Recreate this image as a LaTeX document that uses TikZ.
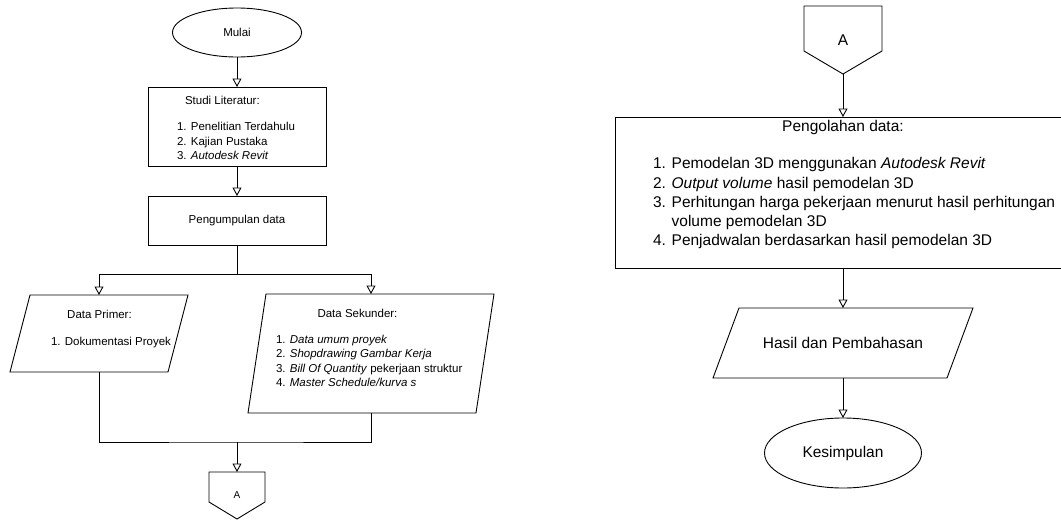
\documentclass[tikz,border=0pt]{standalone}
\usepackage{fontspec}
\setmainfont{Liberation Sans}
\usetikzlibrary{arrows.meta,shapes.geometric}
\begin{document}
\begin{tikzpicture}[x=1pt,y=-1pt,
  line width=0.9pt,
  every node/.style={inner sep=0pt, outer sep=0pt},
  arr/.style={-{Triangle[open,length=8.5pt,width=9pt,line width=0.9pt]}},
  sm/.style={font=\fontsize{11.5}{14}\selectfont},
  bg/.style={font=\fontsize{15.5}{19}\selectfont},
  lt/.style={anchor=base west},
  procbox/.style={draw, rectangle},
  term/.style={draw, ellipse},
  holder/.style={rectangle}
]
\useasboundingbox (0,0) rectangle (1061,520);
\fill[white] (0,0) rectangle (1061,520);
\clip (0,0) rectangle (1061,520);

% ---------- left column ----------
\node[term, sm, minimum width=129pt, minimum height=49pt] (mulai) at (237,32.5) {Mulai};

\node[procbox, minimum width=178pt, minimum height=79pt] (studi) at (237,126.5) {};
\node[sm, lt] (studiT) at (185,104) {Studi Literatur:};
\node[sm, lt] (studi1) at (177,130) {1. Penelitian Terdahulu};
\node[sm, lt] (studi2) at (177,145) {2. Kajian Pustaka};
\node[sm, lt] (studi3) at (177,159) {3. \textit{Autodesk Revit}};

\node[procbox, sm, minimum width=178pt, minimum height=49pt] (peng) at (237,220.5) {Pengumpulan data};

\node[holder, minimum width=158pt, minimum height=77pt] (prim) at (99,333.5) {};
\draw ([xshift=10pt]prim.north west) -- ([xshift=10pt]prim.north east)
  -- ([xshift=-10pt]prim.south east) -- ([xshift=-10pt]prim.south west) -- cycle;
\node[sm, anchor=base] (primT) at (99.5,318) {Data Primer:};
\node[sm, lt] (prim1) at (51,345) {1. Dokumentasi Proyek};

\node[holder, minimum width=228pt, minimum height=119pt] (sek) at (371,353.5) {};
\draw ([xshift=9pt]sek.north west) -- ([xshift=9pt]sek.north east)
  -- ([xshift=-9pt]sek.south east) -- ([xshift=-9pt]sek.south west) -- cycle;
\node[sm, anchor=base] (sekT) at (357.5,317) {Data Sekunder:};
\node[sm, lt] (sek1) at (276,343) {1. \textit{Data umum proyek}};
\node[sm, lt] (sek2) at (276,357.5) {2. \textit{Shopdrawing Gambar Kerja}};
\node[sm, lt] (sek3) at (276,372) {3. \textit{Bill Of Quantity} pekerjaan struktur};
\node[sm, lt] (sek4) at (276,386.5) {4. \textit{Master Schedule/kurva s}};

\node[holder, font=\fontsize{10}{12}\selectfont, minimum width=56pt, minimum height=47pt] (Al) at (237,495.5) {A};
\draw (Al.north west) -- (Al.north east) -- ([yshift=-30pt]Al.north east)
  -- (Al.south) -- ([yshift=-30pt]Al.north west) -- cycle;

\draw[arr] (mulai.south) -- (studi.north);
\draw[arr] (studi.south) -- (peng.north);
\draw (peng.south) -- ++(0,29) coordinate (j1);
\draw[arr] (j1) -| (prim.north);
\draw[arr] (j1) -| (sek.north);
\coordinate (j2) at (237,442);
\draw (prim.south) |- (j2) -| (sek.south);
\draw[arr] (j2) -- (Al.north);

% ---------- right column ----------
\node[holder, bg, minimum width=78pt, minimum height=68pt] (Ar) at (843,40) {A};
\draw (Ar.north west) -- (Ar.north east) -- ([yshift=-45pt]Ar.north east)
  -- (Ar.south) -- ([yshift=-45pt]Ar.north west) -- cycle;

\node[procbox, minimum width=456pt, minimum height=151pt] (olah) at (843,192.5) {};
\node[bg, anchor=base] (olahT) at (843,131.5) {Pengolahan data:};
\node[bg, lt] (olah1) at (653,168.5) {1. Pemodelan 3D menggunakan \textit{Autodesk Revit}};
\node[bg, lt] (olah2) at (653,188) {2. \textit{Output volume} hasil pemodelan 3D};
\node[bg, lt] (olah3) at (653,207.5) {3. Perhitungan harga pekerjaan menurut hasil perhitungan};
\node[bg, lt] (olah3b) at (653,226.5) {\hphantom{3. }volume pemodelan 3D};
\node[bg, lt] (olah4) at (653,245.5) {4. Penjadwalan berdasarkan hasil pemodelan 3D};

\node[holder, bg, minimum width=234pt, minimum height=70pt] (hasil) at (843,343) {Hasil dan Pembahasan};
\draw ([xshift=13pt]hasil.north west) -- ([xshift=13pt]hasil.north east)
  -- ([xshift=-13pt]hasil.south east) -- ([xshift=-13pt]hasil.south west) -- cycle;

\node[term, bg, minimum width=157pt, minimum height=70pt] (kes) at (843,453) {Kesimpulan};

\draw[arr] (Ar.south) -- (olah.north);
\draw[arr] (olah.south) -- (hasil.north);
\draw[arr] (hasil.south) -- (kes.north);
\end{tikzpicture}
\end{document}
